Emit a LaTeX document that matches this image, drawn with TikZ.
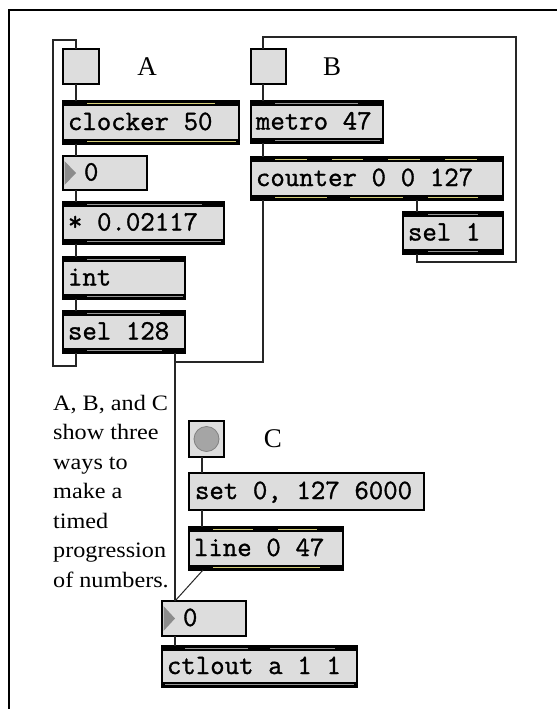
\documentclass[tikz,border=0pt]{standalone}
\usepackage{fontspec}
\usetikzlibrary{calc}
\newfontfamily\maxmono[FakeBold=1.2]{Latin Modern Mono}
\newfontfamily\cmtfont[FakeStretch=1.1]{Liberation Serif}
\newfontfamily\lblfont{Liberation Serif}
\definecolor{boxgray}{RGB}{221,221,221}
\definecolor{hotline}{RGB}{214,206,120}
\definecolor{coldline}{RGB}{150,150,150}
\definecolor{trigray}{RGB}{140,140,140}
\definecolor{btncol}{RGB}{165,165,165}
\tikzset{
 mbox/.style={draw=black, line width=1.5pt, fill=boxgray, outer sep=0pt, inner ysep=0pt,
   align=left, text height=15pt, text depth=0pt,
   font=\maxmono\fontsize{28}{30}\selectfont},
 tog/.style={draw=black, line width=1.5pt, fill=boxgray, outer sep=0pt, inner sep=0pt},
 cord/.style={line width=1.3pt, draw=black!85},
 hot/.style={draw=hotline, line width=1.8pt},
 cold/.style={draw=coldline, line width=1.8pt},
 band/.style={fill=black},
 lbl/.style={font=\lblfont\fontsize{27}{30}\selectfont, inner sep=0pt},
 cmt/.style={font=\cmtfont\fontsize{22}{29.5}\selectfont, inner sep=0pt, align=left},
}
\newcommand\mobj[7][5]{%
 \pgfmathsetmacro\mxw{#5-#3}\pgfmathsetmacro\mxh{#6-#4}\pgfmathsetmacro\mxt{#5-#3-2*#1}%
 \node[mbox, inner xsep=#1pt, minimum width=\mxw pt, minimum height=\mxh pt, text width=\mxt pt]
   (#2) at ({(#3+#5)/2},{(#4+#6)/2}) {\spaceskip=14.7pt\relax #7};}
\newcommand\tband[1]{\fill[band] (#1.north west) rectangle ([yshift=-5pt]#1.north east);}
\newcommand\bband[1]{\fill[band] (#1.south west) rectangle ([yshift=5pt]#1.south east);}
\newcommand\tstripe[4]{\draw[#1] ([yshift=-2.5pt]#2.north -| #3,0) -- ([yshift=-2.5pt]#2.north -| #4,0);}
\newcommand\bstripe[4]{\draw[#1] ([yshift=2.5pt]#2.south -| #3,0) -- ([yshift=2.5pt]#2.south -| #4,0);}
\newcommand\numtri[1]{\fill[trigray] ([xshift=1.5pt,yshift=-5pt]#1.north west) -- ([xshift=13pt]#1.west) -- ([xshift=1.5pt,yshift=5pt]#1.south west) -- cycle;}
\begin{document}
\begin{tikzpicture}[x=1pt,y=-1pt]
\fill[white] (0,0) rectangle (557,709);
\useasboundingbox (0,0) rectangle (557,709);
\draw[line width=2pt] (9,709) -- (9,10) -- (557,10);

% ---- A ----
\node[tog, minimum width=36pt, minimum height=35pt] (togA) at (81,66.5) {};
\node[lbl] (labA) at (147,66.5) {A};
\mobj{clocker}{63}{101}{239}{144}{clocker 50}
\mobj[21]{numA}{63}{156}{147}{190}{0}
\mobj{mul}{63}{202}{224}{244}{* 0.02117}
\mobj{int}{63}{257}{185}{299}{int}
\mobj{selA}{63}{311}{185}{353}{sel 128}

% ---- B ----
\node[tog, minimum width=35pt, minimum height=35pt] (togB) at (268.5,66.5) {};
\node[lbl] (labB) at (332,66.5) {B};
\mobj{metro}{251}{101}{383}{143}{metro 47}
\mobj{counter}{251}{157}{503}{200}{counter 0 0 127}
\mobj{selB}{403}{212}{503}{254}{sel 1}

% ---- C ----
\node[tog, minimum width=35pt, minimum height=36pt] (btn) at (206.5,439) {};
\draw[fill=btncol, draw=gray, line width=0.8pt] (btn.center) circle (12.5pt);
\node[lbl] (labC) at (273,438.5) {C};
\mobj[6]{msg}{189}{473}{424}{510}{set 0, 127 6000}
\mobj{line}{189}{527}{343}{570}{line 0 47}
\mobj[21]{numC}{162}{601}{246}{636}{0}
\mobj{ctlout}{162}{646}{357}{687}{ctlout a 1 1}

% comment
\node[cmt, anchor=north west] (comment) at (53,395)
  {A, B, and C\\show three\\ways to\\make a\\timed\\progression\\of numbers.};

% ---- bands & stripes ----
\foreach \n in {clocker,mul,int,selA,metro,counter,selB,line,ctlout}{\tband{\n}\bband{\n}}
\tstripe{hot}{clocker}{87}{215}\bstripe{hot}{clocker}{87}{236}
\tstripe{cold}{mul}{87}{202}\bstripe{cold}{mul}{87}{221}
\tstripe{cold}{int}{87}{160}\bstripe{cold}{int}{87}{183}
\tstripe{cold}{selA}{87}{160}\bstripe{cold}{selA}{87}{162}
\tstripe{cold}{metro}{275}{358}\bstripe{cold}{metro}{275}{380}
\tstripe{hot}{counter}{275}{307}\tstripe{hot}{counter}{332}{363}
\tstripe{hot}{counter}{388}{420}\tstripe{hot}{counter}{445}{477}
\bstripe{hot}{counter}{275}{327}\bstripe{hot}{counter}{350}{403}\bstripe{hot}{counter}{428}{478}
\tstripe{cold}{selB}{428}{478}\bstripe{cold}{selB}{428}{478}
\tstripe{hot}{line}{213}{253}\tstripe{hot}{line}{278}{317}\bstripe{hot}{line}{213}{320}
\tstripe{cold}{ctlout}{185}{248}\tstripe{cold}{ctlout}{270}{335}\bstripe{cold}{ctlout}{165}{354}
\numtri{numA}\numtri{numC}

% ---- cords ----
\draw[cord] ([xshift=13pt]togA.south west) -- ([xshift=13pt]clocker.north west);
\draw[cord] ([xshift=13pt]clocker.south west) -- ([xshift=13pt]numA.north west);
\draw[cord] ([xshift=13pt]numA.south west) -- ([xshift=13pt]mul.north west);
\draw[cord] ([xshift=13pt]mul.south west) -- ([xshift=13pt]int.north west);
\draw[cord] ([xshift=13pt]int.south west) -- ([xshift=13pt]selA.north west);
\draw[cord] ([xshift=13pt]selA.south west) -- ++(0,13) -| (53,40) -| ([xshift=13pt]togA.north west);

\draw[cord] ([xshift=12pt]togB.south west) -- ([xshift=12pt]metro.north west);
\draw[cord] ([xshift=12pt]metro.south west) -- ([xshift=12pt]counter.north west);
\draw[cord] ([xshift=14pt]selB.north west |- counter.south) -- ([xshift=14pt]selB.north west);
\draw[cord] ([xshift=14pt]selB.south west) -- ++(0,8) -| (516,37) -| ([xshift=12pt]togB.north west);
\draw[cord] ([xshift=12pt]counter.south west) -- ++(0,162) -| ([xshift=13pt]numC.north west);
\draw[cord] ([xshift=-10pt]selA.south east) -- ([xshift=13pt]numC.north west);

\draw[cord] ([xshift=13pt]btn.south west) -- ([xshift=13pt]msg.north west);
\draw[cord] ([xshift=13pt]msg.south west) -- ([xshift=13pt]line.north west);
\draw[cord, line width=1pt] ([xshift=14pt]line.south west) -- ([xshift=13pt]numC.north west);
\draw[cord] ([xshift=13pt]numC.south west) -- ([xshift=13pt]ctlout.north west);
\end{tikzpicture}
\end{document}
